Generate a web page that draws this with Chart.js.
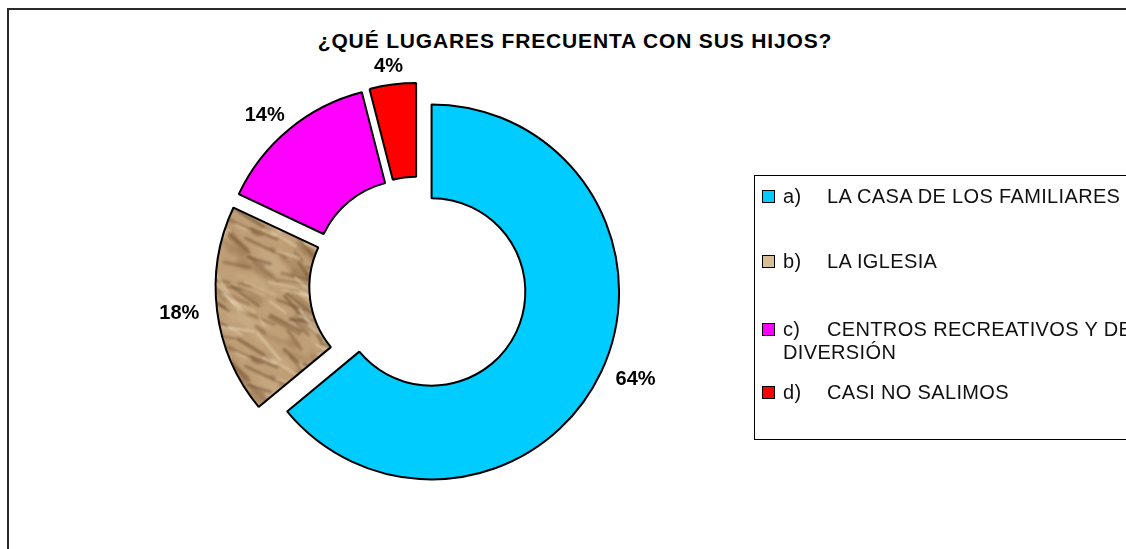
<!DOCTYPE html>
<html>
<head>
<meta charset="utf-8">
<script src="https://cdn.jsdelivr.net/npm/chart.js@4/dist/chart.umd.min.js"></script>
<style>
  html, body { margin: 0; padding: 0; background: #fff; }
  #wrap { position: relative; width: 1126px; height: 549px; overflow: hidden; font-family: "Liberation Sans", Arial, sans-serif; }
  #frame { position: absolute; left: 7px; top: 8px; width: 1200px; height: 600px; border: 2px solid #2a2a2a; box-sizing: border-box; }
  #title { position: absolute; left: 0; top: 29px; width: 1150px; text-align: center; font-weight: bold; font-size: 21px; letter-spacing: 0.85px; color: #000; }
  canvas { position: absolute; left: 0; top: 0; }
  #legend { position: absolute; left: 754px; top: 175px; width: 420px; height: 265px; border: 1px solid #000; box-sizing: border-box; color: #111; font-size: 20px; letter-spacing: 0.35px; }
  .item { position: absolute; left: 0; width: 420px; line-height: 23px; }
  .sw { position: absolute; left: 7px; top: 5px; width: 11px; height: 11px; border: 1px solid #000; }
  .key { position: absolute; left: 28px; top: 0; }
  .txt { position: absolute; left: 72px; top: 0; white-space: nowrap; }
  .txt2 { position: absolute; left: 28px; top: 23px; white-space: nowrap; }
</style>
</head>
<body>
<div id="wrap">
  <div id="frame"></div>
  <div id="title"></div>
  <canvas id="c" width="1126" height="549"></canvas>
  <div id="legend"></div>
</div>
<script>
// ---- data ----
const chartTitle = "¿QUÉ LUGARES FRECUENTA CON SUS HIJOS?";
const categoryKeys = ["a)", "b)", "c)", "d)"];
const categories = ["LA CASA DE LOS FAMILIARES", "LA IGLESIA", "CENTROS RECREATIVOS Y DE", "CASI NO SALIMOS"];
const categoryContinuation = ["", "", "DIVERSIÓN", ""];
const percentages = [64, 18, 14, 4];

// ---- styles ----
const sliceColors = ["#00CCFF", null, "#FF00FF", "#FF0000"];
const swatchColors = ["#00CCFF", "#d8bd97", "#FF00FF", "#FF0000"];
const legendRowTops = [9, 74, 142, 205];
const EXPLODE = 15;

document.getElementById('title').textContent = chartTitle;

// textured brown fill (crumpled paper look) for slice b) — deterministic pattern
function makeTexture() {
  const s = 128;
  const cv = document.createElement('canvas');
  cv.width = s; cv.height = s;
  const g = cv.getContext('2d');
  g.fillStyle = '#bf9f77';
  g.fillRect(0, 0, s, s);
  const h = (n) => { const v = Math.sin(n * 12.9898) * 43758.5453; return v - Math.floor(v); };
  g.lineCap = 'round';
  g.filter = 'blur(2px)';
  const layer = (count, cols, wMin, wMax, off) => {
    for (let i = 0; i < count; i++) {
      const x0 = h(i + off) * s, y0 = h(i + off + 100) * s;
      const len = 10 + h(i + off + 200) * 28;
      const ang = 0.55 + (h(i + off + 300) - 0.5) * 0.9;
      g.strokeStyle = cols[i % cols.length];
      g.lineWidth = wMin + h(i + off + 400) * (wMax - wMin);
      for (let dx = -s; dx <= s; dx += s) for (let dy = -s; dy <= s; dy += s) {
        g.beginPath();
        g.moveTo(x0 + dx, y0 + dy);
        g.lineTo(x0 + dx + Math.cos(ang) * len, y0 + dy + Math.sin(ang) * len);
        g.stroke();
      }
    }
  };
  layer(40, ['rgba(150,115,78,0.5)', 'rgba(205,178,140,0.5)'], 4, 9, 1);
  g.filter = 'blur(1px)';
  layer(45, ['rgba(105,76,48,0.55)', 'rgba(125,92,60,0.5)'], 1.5, 3.5, 500);
  layer(35, ['rgba(236,218,186,0.65)'], 1, 2.5, 900);
  return g.createPattern(cv, 'repeat');
}

const ctx = document.getElementById('c').getContext('2d');
const texture = makeTexture();
const fills = sliceColors.map(c => c || texture);

// Excel-style exploded slices: each arc drawn shifted along its bisector
const explodedArcs = {
  id: 'explodedArcs',
  beforeDatasetDraw(chart, args) {
    const c = chart.ctx;
    args.meta.data.forEach(arc => {
      const p = arc.getProps(['startAngle', 'endAngle'], true);
      const mid = (p.startAngle + p.endAngle) / 2;
      c.save();
      c.translate(Math.cos(mid) * EXPLODE, Math.sin(mid) * EXPLODE);
      arc.draw(c);
      c.restore();
    });
    return false;
  }
};

const outsideLabels = {
  id: 'outsideLabels',
  afterDraw(chart) {
    const meta = chart.getDatasetMeta(0);
    const c = chart.ctx;
    c.save();
    c.font = 'bold 20px "Liberation Sans", Arial, sans-serif';
    c.fillStyle = '#000';
    c.textAlign = 'center';
    c.textBaseline = 'middle';
    meta.data.forEach((arc, i) => {
      const p = arc.getProps(['x', 'y', 'startAngle', 'endAngle', 'outerRadius'], true);
      const mid = (p.startAngle + p.endAngle) / 2;
      const ux = Math.cos(mid), uy = Math.sin(mid);
      const txt = percentages[i] + '%';
      const hw = c.measureText(txt).width / 2 + 8, hh = 8;
      const r = p.outerRadius + EXPLODE + 10;
      c.fillText(txt, p.x + ux * (r + hw), p.y + uy * (r + hh));
    });
    c.restore();
  }
};

new Chart(ctx, {
  type: 'doughnut',
  data: {
    labels: categories,
    datasets: [{
      data: percentages,
      backgroundColor: fills,
      borderColor: '#000',
      borderWidth: 2,
      hoverOffset: 0
    }]
  },
  options: {
    responsive: false,
    animation: false,
    cutout: '50%',
    layout: { padding: { top: 97, bottom: 75, left: 168, right: 458 } },
    plugins: { legend: { display: false }, title: { display: false }, tooltip: { enabled: false } },
    events: []
  },
  plugins: [explodedArcs, outsideLabels]
});

// legend (HTML text)
const lg = document.getElementById('legend');
categories.forEach((name, i) => {
  const row = document.createElement('div');
  row.className = 'item';
  row.style.top = legendRowTops[i] + 'px';
  const sw = document.createElement('div');
  sw.className = 'sw';
  sw.style.background = swatchColors[i];
  row.appendChild(sw);
  const k = document.createElement('span'); k.className = 'key'; k.textContent = categoryKeys[i]; row.appendChild(k);
  const t = document.createElement('span'); t.className = 'txt'; t.textContent = name; row.appendChild(t);
  if (categoryContinuation[i]) {
    const t2 = document.createElement('span'); t2.className = 'txt2'; t2.textContent = categoryContinuation[i]; row.appendChild(t2);
  }
  lg.appendChild(row);
});
</script>
</body>
</html>
